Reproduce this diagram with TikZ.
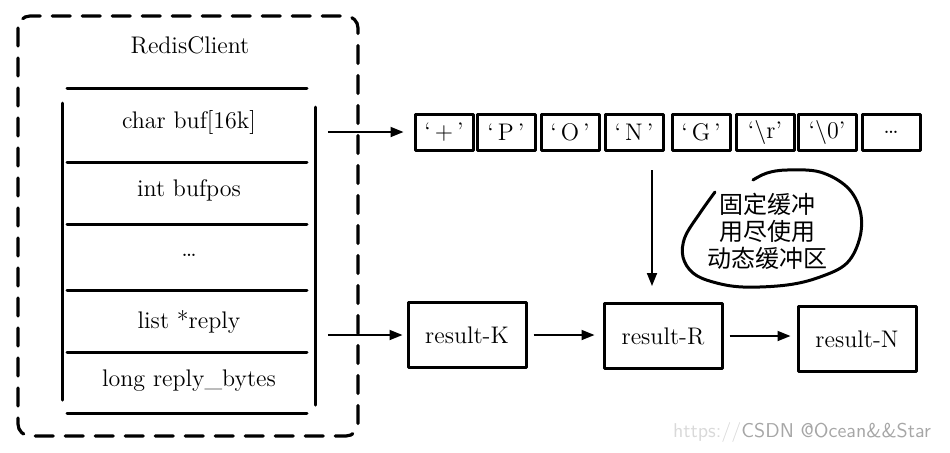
\documentclass[tikz,border=0pt]{standalone}
\usepackage{fontspec}
\newfontfamily\cjk{Noto Sans CJK SC}
\usetikzlibrary{arrows.meta}

\begin{document}
\begin{tikzpicture}[x=0.5pt, y=-0.5pt,
    font=\fontsize{12}{14}\selectfont,
    sketch/.style={line width=1.5pt, line cap=round, line join=round},
    row/.style={minimum width=126.5pt, minimum height=28pt, inner sep=0pt},
    cell/.style={sketch, draw, minimum width=29pt, minimum height=18pt, inner sep=0pt},
    res/.style={sketch, draw, minimum width=59pt, minimum height=32.5pt, inner sep=0pt},
    arr/.style={line width=0.9pt, -{Triangle[length=6.5pt, width=5pt]}, shorten <=1pt, shorten >=2pt}]
            \useasboundingbox (0,0) rectangle (950,452);

            % Client struct
            \draw[sketch, line width=1.6pt, dash pattern=on 9pt off 6pt, rounded corners=6pt]
                (18,16) rectangle (358,436);
            \node (client) at (190,45) {RedisClient};

            \node[row] (buf) at (189,122) {char buf[16k]};
            \node[row] (bufpos) at (189,190) {int bufpos};
            \node[row] (dots) at (189,255) {\dots};
            \node[row] (reply) at (189,322) {list *reply};
            \node[row] (bytes) at (189,381) {long reply\_bytes};

            \foreach \y in {88,162,224,290,352,413}
                \draw[sketch] (67,\y) -- (307,\y);
            \draw[sketch] (62,103) -- (62,400);
            \draw[sketch] (315,107) -- (315,405);

            % Buffer
            \foreach \x/\t [count=\i] in {444/{`\,+\,'}, 506/{`\,P\,'}, 570/{`\,O\,'}, 634/{`\,N\,'},
                                          701/{`\,G\,'}, 765/{`\textbackslash r'}, 827/{`\textbackslash 0'}, 891/{\dots}}
                \node[cell] (c\i) at (\x,132) {\t};

            % Reply list
            \node[res] (rk) at (467,335) {result-K};
            \node[res] (rr) at (663,336) {result-R};
            \node[res] (rn) at (857,339) {result-N};

            % Note
            \draw[sketch] plot[smooth, tension=0.6] coordinates {(715,192) (700,213) (685,237) (683,257)
                (693,273) (713,282) (743,287) (787,285) (820,277) (847,263) (860,237) (860,210)
                (847,187) (820,172) (787,170) (767,173) (753,180)};
            \node[align=center, font=\cjk\fontsize{12}{13.5}\selectfont] (note) at (767,231)
                {固定缓冲\\用尽使用\\动态缓冲区};

            % Edges
            \coordinate (bs) at ([xshift=5pt]buf.east);
            \coordinate (rs) at ([xshift=5pt]reply.east);
            \coordinate (vt) at (652,168);
            \draw[arr, shorten >=5pt] (bs |- c1.west) -- (c1.west);
            \draw[arr] (rs |- rk.west) -- (rk.west);
            \draw[arr, shorten <=3pt, shorten >=4pt] (rk.east) -- (rk.east -| rr.west);
            \draw[arr, shorten <=3pt, shorten >=3pt] (rr.east) -- (rr.east -| rn.west);
            \draw[arr, shorten >=8pt] (vt) -- (vt |- rr.north);

            % Watermark
            \node[anchor=east, font=\sffamily\fontsize{10}{12}\selectfont] (mark) at (938,432)
                {\textcolor{gray!30}{https://}\textcolor{gray!70}{CSDN @Ocean\&\&Star}};
        \end{tikzpicture}
\end{document}
